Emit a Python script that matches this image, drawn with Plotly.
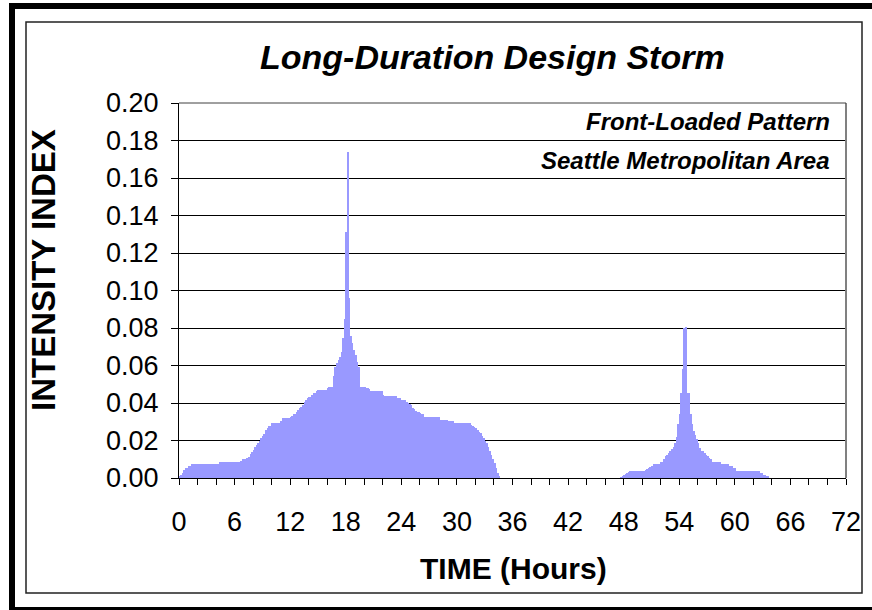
import plotly.graph_objects as go

# 10-minute intensity index values
TIME_STEP_HOURS = 1 / 6

# First storm: starts at hour 0.0
storm1_start_hour = 0.0
storm1_values = [
    0.0007, 0.0016, 0.0028, 0.0043, 0.0055, 0.0055, 0.0064, 0.0066,
    0.0074, 0.0074, 0.0074, 0.0074, 0.0074, 0.0074, 0.0074, 0.0074, 0.0074,
    0.0074, 0.0074, 0.0074, 0.0074, 0.0074, 0.0074, 0.0074, 0.0074, 0.0074,
    0.0086, 0.0086, 0.0086, 0.0086, 0.0086, 0.0086, 0.0086, 0.0086, 0.0086,
    0.0086, 0.0086, 0.0086, 0.0086, 0.0086,
    0.0092, 0.0100, 0.0103, 0.0103, 0.0108, 0.0112, 0.0128, 0.0140, 0.0149,
    0.0167, 0.0178, 0.0188, 0.0199, 0.0215, 0.0225, 0.0235, 0.0256, 0.0268,
    0.0277, 0.0280,
    0.0295, 0.0295, 0.0295, 0.0295, 0.0295, 0.0295,
    0.0305,
    0.0320, 0.0320, 0.0320, 0.0320, 0.0320,
    0.0327, 0.0332, 0.0340, 0.0343, 0.0350, 0.0363, 0.0375, 0.0380, 0.0390,
    0.0405, 0.0418, 0.0428,
    0.0434, 0.0434, 0.0444, 0.0452, 0.0456, 0.0464,
    0.0467, 0.0467, 0.0469, 0.0469, 0.0469, 0.0470,
    0.0478, 0.0484, 0.0487, 0.0487,
    0.0545, 0.0594, 0.0612, 0.0630, 0.0647, 0.0674, 0.0745, 0.0850, 0.1310,
    0.1740, 0.0958, 0.0758, 0.0720, 0.0683, 0.0656, 0.0620, 0.0594,
    0.0487, 0.0486, 0.0485, 0.0484, 0.0480, 0.0478, 0.0475,
    0.0466, 0.0466, 0.0466, 0.0466, 0.0466, 0.0462, 0.0462, 0.0462,
    0.0442,
    0.0437, 0.0437, 0.0437, 0.0437, 0.0437, 0.0437, 0.0437, 0.0437,
    0.0428, 0.0428, 0.0428,
    0.0416, 0.0416, 0.0416,
    0.0405, 0.0398, 0.0395, 0.0390, 0.0375, 0.0366, 0.0360, 0.0354, 0.0354,
    0.0345, 0.0340, 0.0340,
    0.0327, 0.0327, 0.0327, 0.0327,
    0.0323, 0.0323, 0.0323, 0.0323, 0.0323, 0.0323,
    0.0309, 0.0309, 0.0309, 0.0309, 0.0309,
    0.0306, 0.0306, 0.0306, 0.0306,
    0.0295, 0.0295, 0.0295, 0.0295, 0.0295, 0.0295, 0.0295, 0.0295,
    0.0292, 0.0292, 0.0292,
    0.0285, 0.0280, 0.0274, 0.0265, 0.0258, 0.0247, 0.0238, 0.0225, 0.0211,
    0.0198, 0.0185, 0.0165, 0.0145, 0.0125, 0.0102, 0.0078, 0.0052, 0.0025,
    0.0008,
]

# Second storm: starts at hour 47 2/3
storm2_start_hour = 47 + 4 / 6
storm2_values = [
    0.0004, 0.0007, 0.0014, 0.0022, 0.0028, 0.0033,
    0.0037, 0.0037, 0.0037, 0.0037, 0.0037, 0.0037, 0.0037, 0.0037, 0.0037, 0.0037,
    0.0045, 0.0050, 0.0055, 0.0058, 0.0065,
    0.0074, 0.0074, 0.0074, 0.0074, 0.0074,
    0.0084, 0.0088, 0.0101, 0.0117, 0.0125, 0.0133, 0.0144, 0.0155, 0.0167,
    0.0188, 0.0220, 0.0288, 0.0340, 0.0455, 0.0580,
    0.0800, 0.0805, 0.0455, 0.0452,
    0.0340, 0.0290, 0.0250, 0.0229, 0.0210, 0.0188, 0.0162, 0.0145, 0.0142,
    0.0135, 0.0125, 0.0118, 0.0105, 0.0100,
    0.0083, 0.0083, 0.0083, 0.0083, 0.0083, 0.0083,
    0.0075, 0.0075, 0.0075, 0.0075, 0.0075,
    0.0063, 0.0063, 0.0063,
    0.0055, 0.0055,
    0.0037, 0.0037, 0.0037, 0.0037, 0.0037, 0.0037, 0.0037, 0.0037, 0.0037,
    0.0037, 0.0037, 0.0037, 0.0037, 0.0037, 0.0037,
    0.0025, 0.0025, 0.0016, 0.0016, 0.0007, 0.0007,
]

x_tick_values = [0, 6, 12, 18, 24, 30, 36, 42, 48, 54, 60, 66, 72]
x_tick_labels = ["0", "6", "12", "18", "24", "30", "36", "42", "48", "54", "60", "66", "72"]
y_tick_values = [0.00, 0.02, 0.04, 0.06, 0.08, 0.10, 0.12, 0.14, 0.16, 0.18, 0.20]
y_tick_labels = ["0.00", "0.02", "0.04", "0.06", "0.08", "0.10", "0.12", "0.14", "0.16", "0.18", "0.20"]

title_text = "Long-Duration Design Storm"
note_1 = "Front-Loaded Pattern"
note_2 = "Seattle Metropolitan Area"
x_title = "TIME (Hours)"
y_title = "INTENSITY INDEX"

times = []
values = []
for start, vals in ((storm1_start_hour, storm1_values), (storm2_start_hour, storm2_values)):
    for i, v in enumerate(vals):
        times.append(start + (i + 0.5) * TIME_STEP_HOURS)
        values.append(v)

W, H = 872, 610
L, R, T, B = 179, 26, 103, 132
PW, PH = W - L - R, H - T - B


def px(xp):
    return (xp - L) / PW


def py(yp):
    return (H - B - yp) / PH


FONT = "Liberation Sans, Arial, Helvetica, sans-serif"

fig = go.Figure()
fig.add_trace(go.Bar(
    x=times, y=values, width=TIME_STEP_HOURS,
    marker=dict(color="#9999FF", line=dict(width=0)),
    hoverinfo="x+y", showlegend=False,
))

fig.update_layout(
    width=W, height=H,
    margin=dict(l=L, r=R, t=T, b=B),
    paper_bgcolor="white", plot_bgcolor="white",
    bargap=0,
    font=dict(family=FONT, color="black"),
    xaxis=dict(
        range=[0, 72], tickvals=x_tick_values, ticktext=x_tick_labels,
        ticks="outside", ticklen=6, tickwidth=1, tickcolor="black",
        showline=True, linecolor="black", linewidth=1,
        showgrid=False, zeroline=False,
        tickfont=dict(size=27, family=FONT),
        ticklabelstandoff=14,
        minor=dict(dtick=2, ticks="outside", ticklen=6, tickwidth=1, tickcolor="black", showgrid=False),
    ),
    yaxis=dict(
        range=[0, 0.2], tickvals=y_tick_values, ticktext=y_tick_labels,
        ticks="outside", ticklen=7, tickwidth=1, tickcolor="black",
        showline=True, linecolor="black", linewidth=1,
        showgrid=True, gridcolor="black", gridwidth=1, zeroline=False,
        tickfont=dict(size=27, family=FONT),
        ticklabelstandoff=7,
    ),
    shapes=[
        dict(type="line", xref="paper", yref="paper", x0=1, x1=1, y0=0, y1=1,
             line=dict(color="#808080", width=2)),
        dict(type="line", xref="paper", yref="paper", x0=0, x1=1, y0=1, y1=1,
             line=dict(color="#404040", width=1)),
        # inner chart-area frame
        dict(type="rect", xref="paper", yref="paper",
             x0=px(26), x1=px(862), y0=py(22), y1=py(593),
             line=dict(color="#222222", width=1.5)),
        # outer thick black frame
        dict(type="rect", xref="paper", yref="paper",
             x0=px(12), x1=px(880), y0=py(6), y1=py(610),
             line=dict(color="black", width=6)),
    ],
    annotations=[
        dict(text=title_text, xref="paper", yref="paper", x=px(492), y=py(57),
             xanchor="center", yanchor="middle", showarrow=False,
             font=dict(size=34, family=FONT, weight="bold", style="italic")),
        dict(text=note_1, xref="paper", yref="paper", x=px(832), y=py(122),
             xanchor="right", yanchor="middle", showarrow=False,
             font=dict(size=24, family=FONT, weight="bold", style="italic")),
        dict(text=note_2, xref="paper", yref="paper", x=px(832), y=py(160),
             xanchor="right", yanchor="middle", showarrow=False,
             font=dict(size=24, family=FONT, weight="bold", style="italic")),
        dict(text=x_title, xref="paper", yref="paper", x=px(513), y=py(568),
             xanchor="center", yanchor="middle", showarrow=False,
             font=dict(size=30, family=FONT, weight="bold")),
        dict(text=y_title, xref="paper", yref="paper", x=px(43), y=py(270),
             xanchor="center", yanchor="middle", showarrow=False, textangle=-90,
             font=dict(size=33, family=FONT, weight="bold")),
    ],
)

fig.write_html(
    "out.html",
    config={"displayModeBar": False},
    post_script="document.body.style.margin='0px';",
)
